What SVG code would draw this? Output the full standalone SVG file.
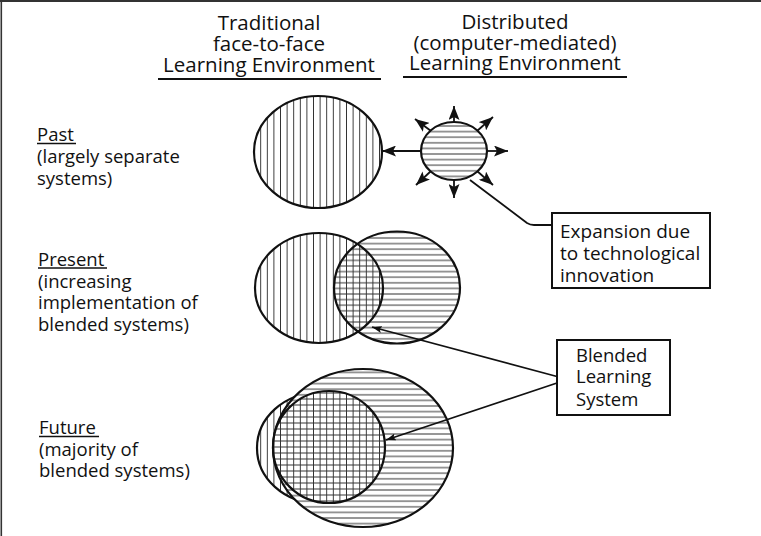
<svg xmlns="http://www.w3.org/2000/svg" width="761" height="536" viewBox="0 0 761 536">
<style>
  text { font-family: "Open Sans", "Noto Sans", "DejaVu Sans", sans-serif; fill: #111; font-weight: 500; }
  .hdr { font-size: 20.5px; text-anchor: middle; }
  .lbl { font-size: 18.5px; }
  .box1 { font-size: 19px; }
  .box2 { font-size: 18.5px; }
  .rule { stroke: #111; stroke-width: 2; }
  .uline { stroke: #111; stroke-width: 1.6; }
  .outline { fill: none; stroke: #111; stroke-width: 2.2; }
  .white { fill: #fff; stroke: none; }
  .conn { fill: none; stroke: #111; stroke-width: 1.8; }
  .frame { fill: #fff; stroke: #111; stroke-width: 2; }
</style>
<defs>
  <pattern id="vhatch" patternUnits="userSpaceOnUse" width="6.6" height="10">
    <line x1="3.3" y1="0" x2="3.3" y2="10" stroke="#333" stroke-width="1"/>
  </pattern>
  <pattern id="hhatch" patternUnits="userSpaceOnUse" width="10" height="5.6">
    <line x1="0" y1="2.8" x2="10" y2="2.8" stroke="#333" stroke-width="1"/>
  </pattern>
  <pattern id="xhatch" patternUnits="userSpaceOnUse" width="6.6" height="6">
    <line x1="3.3" y1="0" x2="3.3" y2="6" stroke="#333" stroke-width="1"/>
    <line x1="0" y1="3" x2="6.6" y2="3" stroke="#333" stroke-width="1"/>
  </pattern>
  <marker id="bighead" viewBox="0 0 14 11" refX="14" refY="5.5" markerWidth="14" markerHeight="11" markerUnits="userSpaceOnUse" orient="auto">
    <path d="M0,0 L14,5.5 L0,11 L3,5.5 z" fill="#111"/>
  </marker>
  <marker id="smallhead" viewBox="0 0 10 7" refX="10" refY="3.5" markerWidth="10" markerHeight="7" markerUnits="userSpaceOnUse" orient="auto">
    <path d="M0,0 L10,3.5 L0,7 L2,3.5 z" fill="#111"/>
  </marker>
</defs>

<rect x="0" y="0" width="761" height="536" fill="#fff"/>
<rect x="0" y="0" width="761" height="2" fill="#333"/>
<rect x="0.5" y="0" width="1.6" height="536" fill="#333"/>

<g id="header-traditional">
  <text class="hdr" x="269" y="29.5">Traditional</text>
  <text class="hdr" x="269" y="51">face-to-face</text>
  <text class="hdr" x="269" y="72">Learning Environment</text>
  <line class="rule" x1="158" y1="79" x2="381" y2="79"/>
</g>
<g id="header-distributed">
  <text class="hdr" x="515" y="29">Distributed</text>
  <text class="hdr" x="515" y="50">(computer-mediated)</text>
  <text class="hdr" x="515" y="70">Learning Environment</text>
  <line class="rule" x1="403" y1="77" x2="627" y2="77"/>
</g>

<g id="label-past">
  <text class="lbl" x="37" y="140.5">Past</text>
  <line class="uline" x1="37" y1="143.5" x2="76" y2="143.5"/>
  <text class="lbl" x="37" y="163">(largely separate</text>
  <text class="lbl" x="37" y="184.5">systems)</text>
</g>
<g id="label-present">
  <text class="lbl" x="38" y="265.5">Present</text>
  <line class="uline" x1="38" y1="268" x2="107" y2="268"/>
  <text class="lbl" x="38" y="287.5">(increasing</text>
  <text class="lbl" x="38" y="309">implementation of</text>
  <text class="lbl" x="38" y="330.5">blended systems)</text>
</g>
<g id="label-future">
  <text class="lbl" x="39" y="434">Future</text>
  <line class="uline" x1="39" y1="436.5" x2="99" y2="436.5"/>
  <text class="lbl" x="39" y="455.5">(majority of</text>
  <text class="lbl" x="39" y="477">blended systems)</text>
</g>

<g id="past-traditional">
  <ellipse class="white" cx="318" cy="152" rx="64" ry="56"/>
  <ellipse cx="318" cy="152" rx="64" ry="56" fill="url(#vhatch)"/>
  <ellipse class="outline" cx="318" cy="152" rx="64" ry="56"/>
</g>
<g id="past-distributed">
  <ellipse class="white" cx="454" cy="151" rx="33" ry="29"/>
  <ellipse cx="454" cy="151" rx="33" ry="29" fill="url(#hhatch)"/>
  <ellipse class="outline" cx="454" cy="151" rx="33" ry="29"/>
</g>

<g id="present-venn">
  <ellipse class="white" cx="319" cy="288" rx="64" ry="55"/>
  <ellipse class="white" cx="397" cy="287.5" rx="63" ry="56"/>
  <ellipse cx="397" cy="287.5" rx="63" ry="56" fill="url(#hhatch)"/>
  <ellipse cx="319" cy="288" rx="64" ry="55" fill="url(#vhatch)"/>
  <ellipse class="outline" cx="319" cy="288" rx="64" ry="55"/>
  <ellipse class="outline" cx="397" cy="287.5" rx="63" ry="56"/>
</g>

<g id="future-venn">
  <ellipse class="white" cx="318" cy="448" rx="61" ry="55"/>
  <ellipse cx="318" cy="448" rx="61" ry="55" fill="url(#vhatch)"/>
  <ellipse class="outline" cx="318" cy="448" rx="61" ry="55"/>
  <ellipse class="white" cx="363" cy="448" rx="90" ry="79"/>
  <ellipse cx="363" cy="448" rx="90" ry="79" fill="url(#hhatch)"/>
  <ellipse class="outline" cx="363" cy="448" rx="90" ry="79"/>
  <ellipse class="white" cx="329" cy="447" rx="56" ry="56"/>
  <ellipse cx="329" cy="447" rx="56" ry="56" fill="url(#xhatch)"/>
  <ellipse class="outline" cx="329" cy="447" rx="56" ry="56"/>
</g>

<g id="box-expansion">
  <rect class="frame" x="552" y="213" width="158" height="75"/>
  <text class="box1" x="560" y="238">Expansion due</text>
  <text class="box1" x="560" y="260">to technological</text>
  <text class="box1" x="560" y="281.5">innovation</text>
</g>
<g id="box-blended">
  <rect class="frame" x="557" y="340" width="113" height="75"/>
  <text class="box2" x="576" y="361.5">Blended</text>
  <text class="box2" x="576" y="383">Learning</text>
  <text class="box2" x="576" y="405.5">System</text>
</g>

<g id="connectors">
  <line class="conn" x1="421" y1="151" x2="382" y2="151" marker-end="url(#bighead)"/>
  <line class="conn" x1="454" y1="122" x2="454" y2="106" marker-end="url(#bighead)"/>
  <line class="conn" x1="487" y1="151" x2="508" y2="151" marker-end="url(#bighead)"/>
  <line class="conn" x1="454" y1="180" x2="454" y2="198" marker-end="url(#bighead)"/>
  <line class="conn" x1="477" y1="131" x2="493" y2="117" marker-end="url(#bighead)"/>
  <line class="conn" x1="431" y1="131" x2="415" y2="119" marker-end="url(#bighead)"/>
  <line class="conn" x1="431" y1="171" x2="416" y2="185" marker-end="url(#bighead)"/>
  <line class="conn" x1="477" y1="171" x2="493" y2="185" marker-end="url(#bighead)"/>
  <path class="conn" d="M470,180 L527,223 Q530,225 534,225 L552,225"/>
  <line class="conn" x1="557" y1="376.5" x2="372" y2="327" marker-end="url(#smallhead)"/>
  <line class="conn" x1="557" y1="383" x2="386" y2="440" marker-end="url(#smallhead)"/>
</g>
</svg>
